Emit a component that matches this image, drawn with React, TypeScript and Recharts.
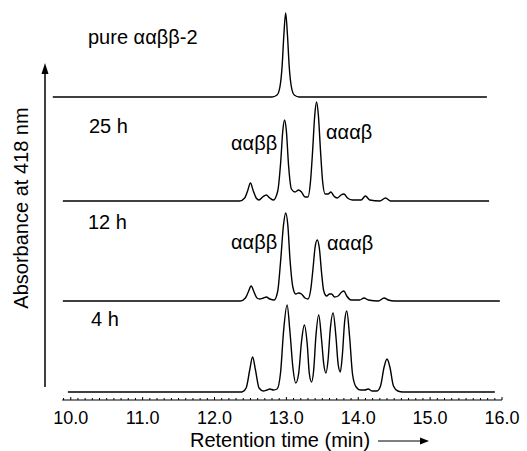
import { LineChart, Line, XAxis, YAxis, ReferenceLine } from "recharts";

// [retention time (min), absorbance above the trace's own baseline]
const PURE: [number, number][] = [
  [9.75, 0], [12.8, 0], [12.87, 2], [12.91, 10], [12.94, 30], [12.965, 62], [12.99, 84],
  [13.015, 62], [13.04, 30], [13.07, 10], [13.11, 2], [13.18, 0], [15.79, 0],
];

const H25: [number, number][] = [
  [9.89, 0], [12.35, 0], [12.42, 3], [12.46, 10], [12.5, 18], [12.54, 10], [12.58, 3],
  [12.62, 1], [12.67, 4], [12.72, 6], [12.77, 3], [12.82, 1], [12.88, 10], [12.92, 38],
  [12.95, 70], [12.975, 81], [13.0, 70], [13.03, 36], [13.07, 12], [13.12, 9], [13.17, 11],
  [13.21, 9], [13.26, 4], [13.3, 4], [13.335, 19], [13.365, 50], [13.395, 86], [13.42, 99],
  [13.445, 86], [13.475, 50], [13.505, 19], [13.54, 7], [13.58, 7], [13.62, 9], [13.66, 5],
  [13.71, 3], [13.76, 6], [13.8, 7], [13.85, 3], [13.92, 1], [14.04, 1], [14.1, 5],
  [14.16, 1], [14.3, 0], [14.38, 3], [14.45, 0], [15.82, 0],
];

const H12: [number, number][] = [
  [9.89, 0], [12.36, 0], [12.43, 3], [12.47, 9], [12.51, 15], [12.55, 9], [12.59, 3],
  [12.63, 2], [12.68, 3], [12.72, 4], [12.77, 2], [12.83, 1], [12.88, 10], [12.92, 40],
  [12.96, 76], [12.99, 88], [13.02, 76], [13.05, 42], [13.09, 14], [13.13, 7], [13.17, 8],
  [13.21, 7], [13.26, 3], [13.3, 2], [13.34, 12], [13.37, 32], [13.4, 54], [13.43, 61],
  [13.46, 52], [13.49, 28], [13.52, 10], [13.56, 5], [13.6, 7], [13.63, 7], [13.67, 4],
  [13.72, 5], [13.77, 9], [13.8, 10], [13.84, 5], [13.9, 1], [14.02, 1], [14.08, 3],
  [14.14, 1], [14.28, 0], [14.36, 3], [14.42, 1], [14.5, 0], [15.97, 0],
];

const H4: [number, number][] = [
  [9.96, 0], [12.38, 0], [12.44, 4], [12.49, 22], [12.53, 35], [12.57, 22], [12.62, 4],
  [12.68, 1], [12.73, 2], [12.77, 3], [12.82, 2], [12.87, 3], [12.92, 20], [12.96, 60],
  [13.01, 87], [13.05, 60], [13.09, 25], [13.13, 9], [13.17, 18], [13.21, 50], [13.25, 67],
  [13.29, 48], [13.32, 18], [13.35, 10], [13.38, 22], [13.41, 55], [13.45, 77], [13.49, 52],
  [13.52, 28], [13.55, 19], [13.58, 32], [13.61, 62], [13.65, 79], [13.69, 55], [13.72, 28],
  [13.75, 20], [13.78, 38], [13.81, 70], [13.84, 81], [13.88, 55], [13.92, 18], [13.97, 5],
  [14.03, 2], [14.09, 2], [14.14, 3], [14.19, 1], [14.26, 1], [14.31, 6], [14.36, 25],
  [14.4, 33], [14.44, 25], [14.49, 6], [14.55, 1], [14.62, 0], [15.9, 0],
];

const X_MAJOR = [10, 11, 12, 13, 14, 15, 16];
const TRACE_LABELS = ["pure ααββ-2", "25 h", "12 h", "4 h"];
const PEAK_LABELS = ["ααββ", "αααβ"];
const X_TITLE = "Retention time (min)";
const Y_TITLE = "Absorbance at 418 nm";

const W = 527;
const H = 451;
const MARGIN = { top: 10, right: 25, left: 42, bottom: 0 };
const X_AXIS_H = 51;
const AXIS_Y = H - MARGIN.bottom - X_AXIS_H;
const FONT = "'Liberation Sans', Arial, sans-serif";

// minor ticks every 0.1 min along the axis line
const X_TICKS = Array.from({ length: 62 }, (_, i) => Math.round((9.9 + i * 0.1) * 10) / 10);

// vertical offset of each stacked trace
const traces = [
  { name: "pure", pts: PURE, offset: 303 },
  { name: "25h", pts: H25, offset: 199 },
  { name: "12h", pts: H12, offset: 99 },
  { name: "4h", pts: H4, offset: 8 },
];

function Tick({ x, payload }: any) {
  const v = payload.value;
  const major = X_MAJOR.some((m) => Math.abs(m - v) < 1e-6);
  return (
    <g>
      <line x1={x} x2={x} y1={AXIS_Y} y2={AXIS_Y - (major ? 3 : 2)} stroke="#000" strokeWidth={1} />
      {major && (
        <text x={x} y={AXIS_Y + 24} textAnchor="middle" fontSize={18} fontFamily={FONT} fill="#000">
          {v.toFixed(1)}
        </text>
      )}
    </g>
  );
}

export default function App() {
  const txt = { fontFamily: FONT, fontSize: 20, fill: "#000" };
  return (
    <div style={{ position: "absolute", left: 0, top: 0, width: W, height: H, background: "#fff" }}>
      <LineChart width={W} height={H} margin={MARGIN}>
        <XAxis
          type="number"
          dataKey="t"
          domain={[9.6, 16]}
          allowDataOverflow
          ticks={X_TICKS}
          interval={0}
          height={X_AXIS_H}
          axisLine={false}
          tickLine={false}
          tick={(p: any) => <Tick {...p} />}
        />
        <YAxis hide type="number" domain={[0, AXIS_Y - MARGIN.top]} allowDataOverflow />
        <ReferenceLine
          segment={[{ x: 9.88, y: 0 }, { x: 16, y: 0 }]}
          stroke="#000"
          strokeWidth={1.2}
          ifOverflow="visible"
        />
        {traces.map((tr) => (
          <Line
            key={tr.name}
            data={tr.pts.map(([t, v]) => ({ t, v: v + tr.offset }))}
            dataKey="v"
            type="monotone"
            stroke="#000"
            strokeWidth={1.4}
            dot={false}
            activeDot={false}
            isAnimationActive={false}
          />
        ))}
      </LineChart>
      <svg width={W} height={H} style={{ position: "absolute", left: 0, top: 0, pointerEvents: "none" }}>
        <line x1={45} y1={387} x2={45} y2={72} stroke="#000" strokeWidth={1.5} />
        <polygon points="45,63 41.5,74 48.5,74" fill="#000" />
        <text transform="translate(28,208) rotate(-90)" textAnchor="middle" {...txt}>
          {Y_TITLE}
        </text>
        <text x={190} y={447} {...txt}>{X_TITLE}</text>
        <line x1={378} y1={441} x2={422} y2={441} stroke="#000" strokeWidth={1.2} />
        <polygon points="429,441 420,437.5 420,444.5" fill="#000" />
        <text x={88} y={44} {...txt}>{TRACE_LABELS[0]}</text>
        <text x={89} y={133} {...txt}>{TRACE_LABELS[1]}</text>
        <text x={88} y={229} {...txt}>{TRACE_LABELS[2]}</text>
        <text x={91} y={326} {...txt}>{TRACE_LABELS[3]}</text>
        <text x={231} y={150} {...txt}>{PEAK_LABELS[0]}</text>
        <text x={326} y={139} {...txt}>{PEAK_LABELS[1]}</text>
        <text x={231} y={249} {...txt}>{PEAK_LABELS[0]}</text>
        <text x={327} y={250} {...txt}>{PEAK_LABELS[1]}</text>
      </svg>
    </div>
  );
}
